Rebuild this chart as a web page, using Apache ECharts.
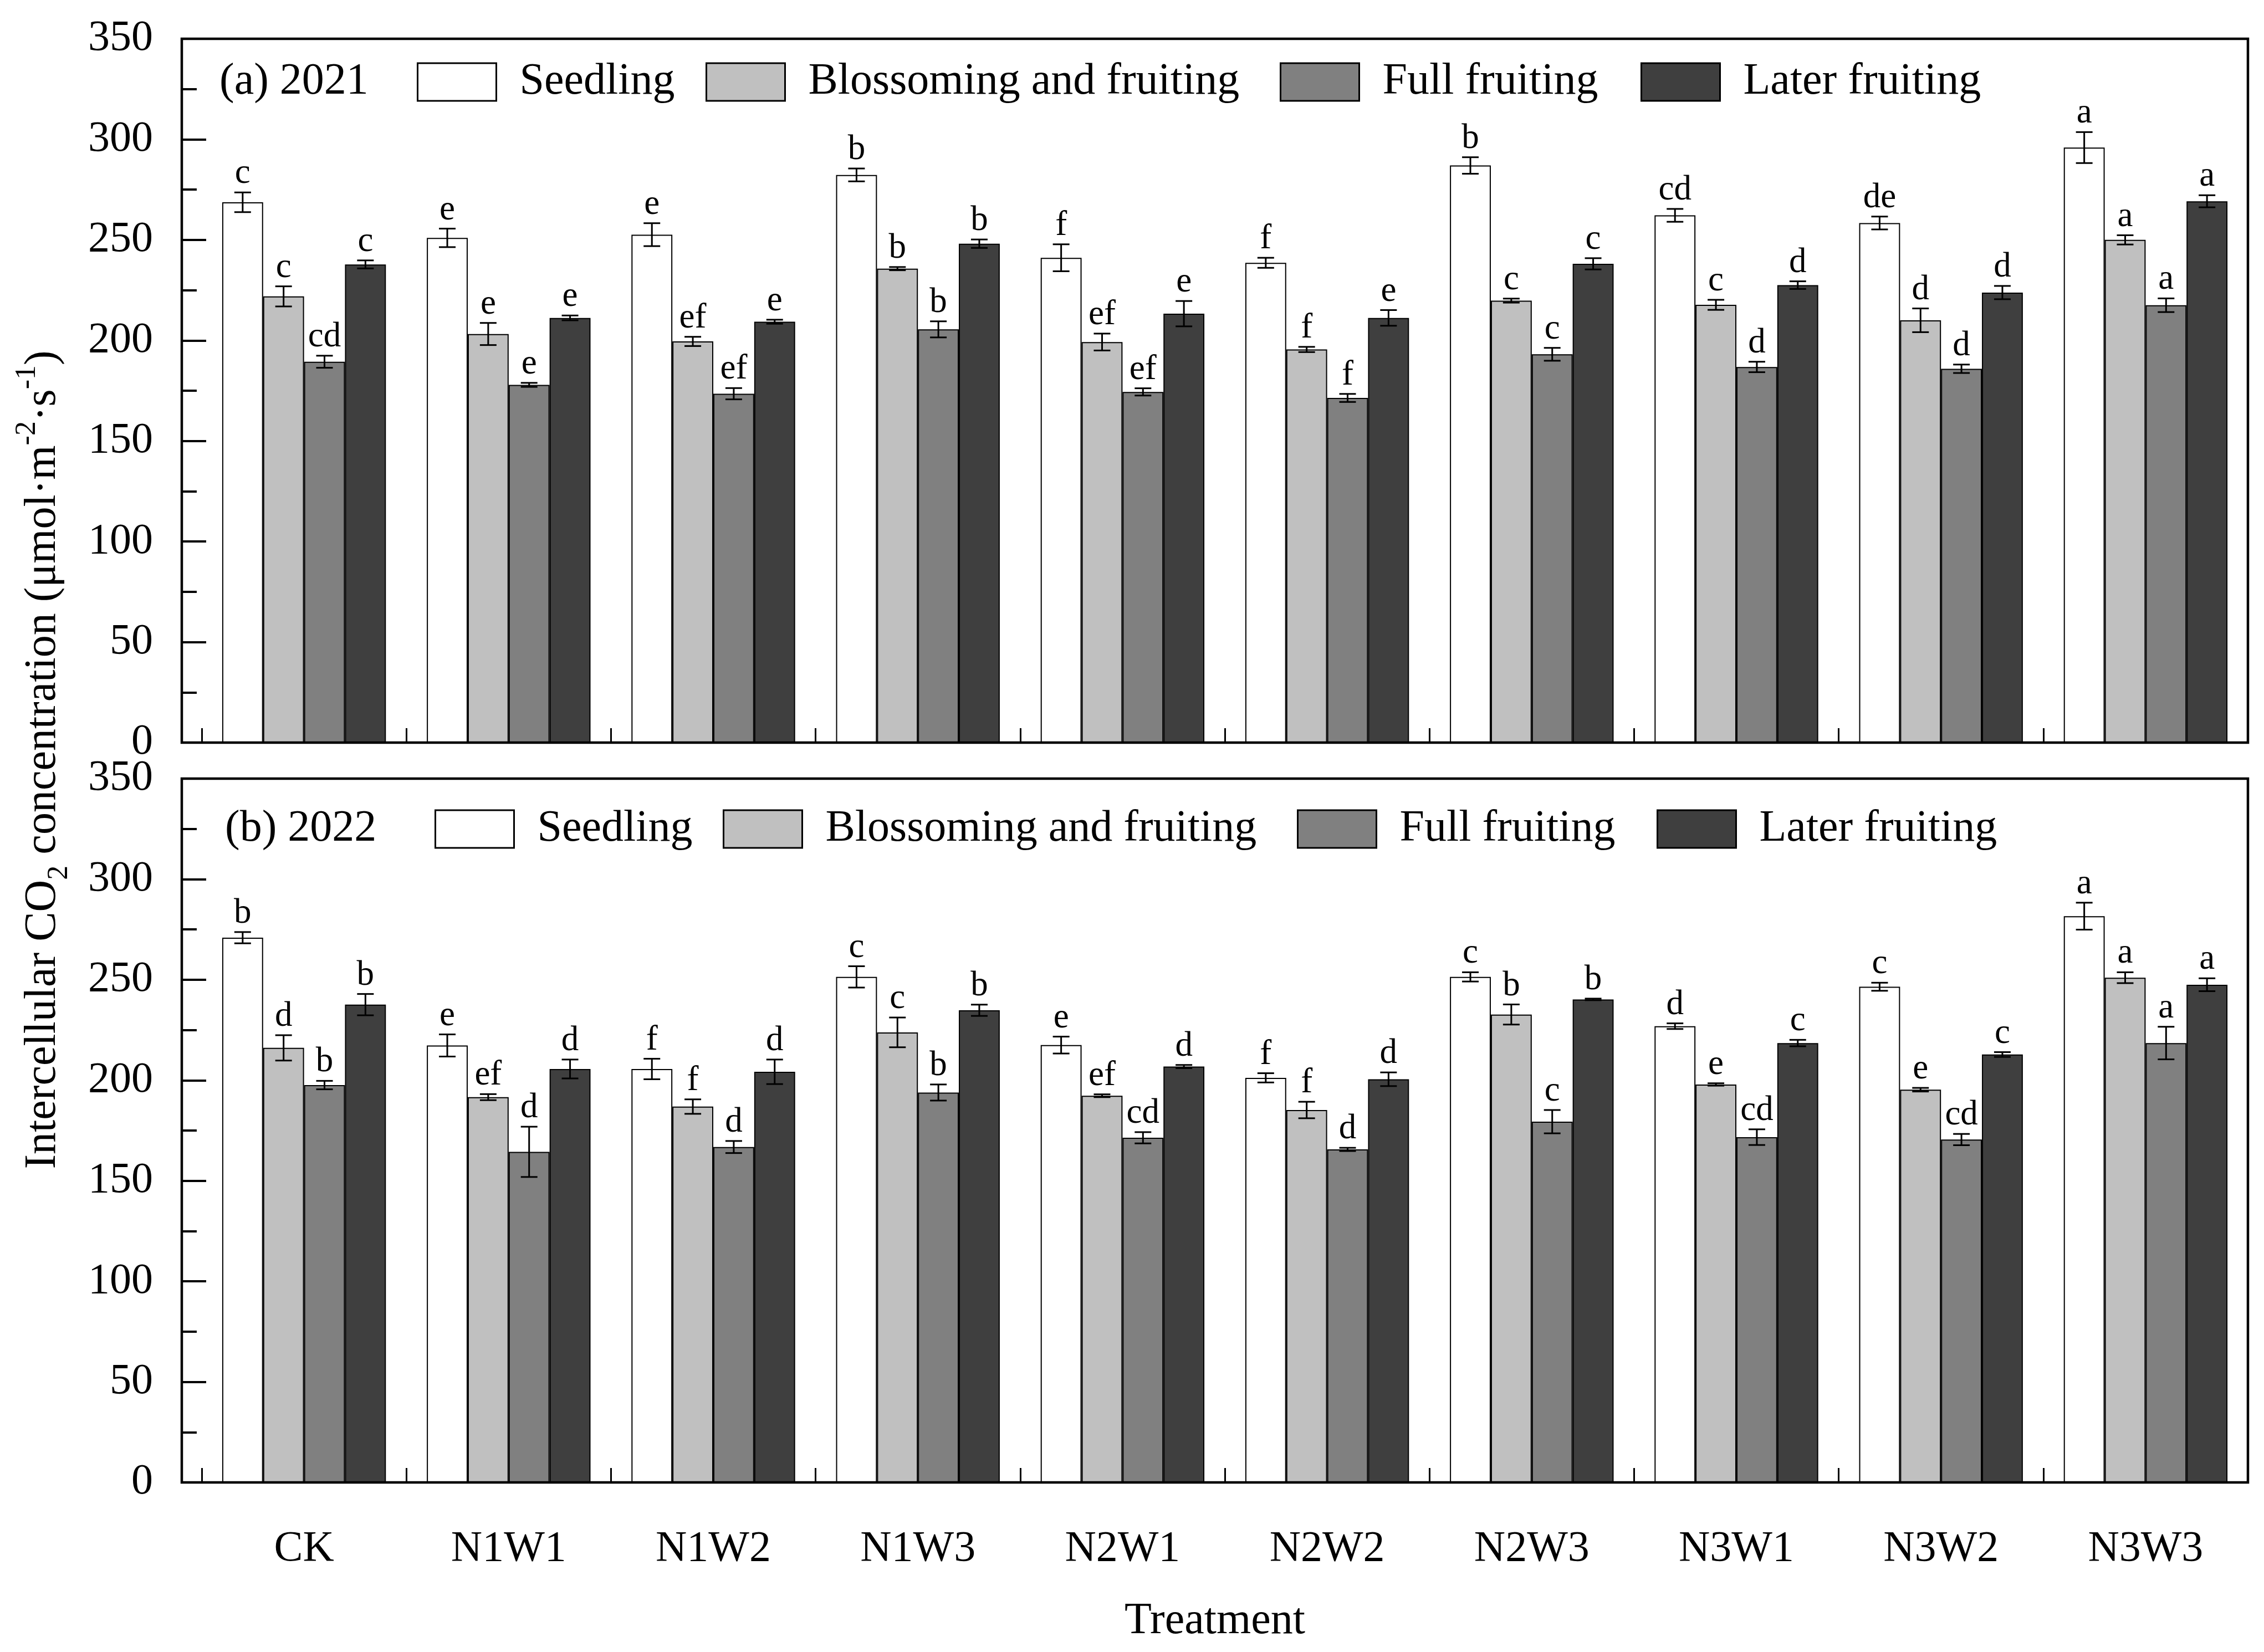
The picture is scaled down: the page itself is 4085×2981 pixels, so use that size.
<!DOCTYPE html>
<html>
<head>
<meta charset="utf-8">
<script src="https://cdn.jsdelivr.net/npm/echarts@6/dist/echarts.min.js"></script>
<style>html,body{margin:0;padding:0;background:#fff;}#chart{width:4085px;height:2981px;}</style>
</head>
<body>
<div id="chart"></div>
<script>
// ---------- data ----------
const categories = ['CK','N1W1','N1W2','N1W3','N2W1','N2W2','N2W3','N3W1','N3W2','N3W3'];
const stages = ['Seedling','Blossoming and fruiting','Full fruiting','Later fruiting'];
const yTicks = [0,50,100,150,200,250,300,350];

// 2021
const seedling2021 = [268.7,251.0,252.6,282.3,241.1,238.6,287.0,262.2,258.4,295.9];
const seedling2021Err = [4.9,4.6,5.7,3.2,6.7,2.5,4.1,3.2,3.2,7.7];
const seedling2021Sig = ['c','e','e','b','f','f','b','cd','de','a'];
const blossom2021 = [221.9,203.2,199.5,235.7,199.2,195.5,219.8,217.7,210.0,250.0];
const blossom2021Err = [5.0,5.5,2.3,0.8,4.2,1.3,1.0,2.5,5.9,2.3];
const blossom2021Sig = ['c','e','ef','b','ef','f','c','c','d','a'];
const full2021 = [189.4,177.9,173.5,205.5,174.4,171.4,193.1,186.8,185.9,217.5];
const full2021Err = [3.0,1.0,2.8,4.0,1.8,2.0,3.2,2.6,2.1,3.4];
const full2021Sig = ['cd','e','ef','b','ef','f','c','d','d','a'];
const later2021 = [237.8,211.2,209.3,248.1,213.3,211.2,238.1,227.5,223.8,269.2];
const later2021Err = [2.0,1.2,1.0,2.1,6.3,3.9,2.8,1.9,3.3,3.0];
const later2021Sig = ['c','e','e','b','e','e','c','d','d','a'];

// 2022
const seedling2022 = [270.9,217.3,205.6,251.4,217.5,201.2,251.4,226.9,246.5,281.6];
const seedling2022Err = [2.8,5.5,5.1,5.3,4.2,2.3,2.3,1.4,2.0,6.7];
const seedling2022Sig = ['b','e','f','c','e','f','c','d','c','a'];
const blossom2022 = [216.1,191.6,186.9,223.8,192.3,185.2,232.7,197.9,195.3,251.0];
const blossom2022Err = [6.3,1.5,3.6,7.4,0.7,4.1,5.0,0.6,0.9,2.7];
const blossom2022Sig = ['d','ef','f','c','ef','f','b','e','e','a'];
const full2022 = [197.6,164.4,166.8,193.9,171.4,165.6,179.4,171.7,170.5,218.5];
const full2022Err = [2.1,12.5,3.0,4.0,2.8,0.8,5.8,3.9,2.8,8.1];
const full2022Sig = ['b','d','d','b','cd','d','c','cd','cd','a'];
const later2022 = [237.6,205.6,204.2,234.8,206.8,200.5,240.2,218.5,212.8,247.5];
const later2022Err = [5.3,4.7,6.1,2.8,0.8,3.4,0.4,1.6,1.2,3.2];
const later2022Sig = ['b','d','d','b','d','d','b','c','c','a'];

// ---------- style / layout ----------
const FONT = 'Liberation Serif';
const colors = ['#ffffff','#c0c0c0','#808080','#3f3f3f'];
const GRID_LEFT = 364, GRID_W = 3692, GRID_H = 1270;
const FRAME_LEFT = 328;
const panelTops = [70, 1405];
const CAT_GAP = 0.2;
const CAP = 15;

const panels = [
  {label:'(a) 2021', means:[seedling2021,blossom2021,full2021,later2021], errs:[seedling2021Err,blossom2021Err,full2021Err,later2021Err], sigs:[seedling2021Sig,blossom2021Sig,full2021Sig,later2021Sig], legendLefts:[752,1273,2309,2960], legendCenter:148, labelX:396},
  {label:'(b) 2022', means:[seedling2022,blossom2022,full2022,later2022], errs:[seedling2022Err,blossom2022Err,full2022Err,later2022Err], sigs:[seedling2022Sig,blossom2022Sig,full2022Sig,later2022Sig], legendLefts:[784,1304,2340,2989], legendCenter:1496, labelX:406}
];

function makeRender(j, letters) {
  return function(params, api) {
    const i = api.value(0), m = api.value(1), e = api.value(2);
    const band = api.size([1, 0])[0];
    const bw = band * (1 - CAT_GAP) / 4;
    const c = api.coord([i, m]);
    const cx = c[0] + (j - 1.5) * bw;
    const yt = api.coord([i, m + e])[1];
    const yb = api.coord([i, m - e])[1];
    const ls = {stroke:'#000', lineWidth:3};
    return {type:'group', children:[
      {type:'line', shape:{x1:cx,y1:yt,x2:cx,y2:yb}, style:ls},
      {type:'line', shape:{x1:cx-CAP,y1:yt,x2:cx+CAP,y2:yt}, style:ls},
      {type:'line', shape:{x1:cx-CAP,y1:yb,x2:cx+CAP,y2:yb}, style:ls},
      {type:'text', x:cx, y:yt-2, style:{text:letters[params.dataIndex], fill:'#000', font:'63px "'+FONT+'"', textAlign:'center', textVerticalAlign:'bottom', align:'center', verticalAlign:'bottom'}}
    ]};
  };
}

const grids = [], xAxes = [], yAxes = [], series = [], legends = [], graphics = [];
panels.forEach((p, pi) => {
  grids.push({left:GRID_LEFT, top:panelTops[pi], width:GRID_W, height:GRID_H, containLabel:false});
  xAxes.push({type:'category', gridIndex:pi, data:categories, boundaryGap:true,
    axisLine:{show:false}, splitLine:{show:false},
    axisTick:{show:true, inside:true, length:26, lineStyle:{color:'#000', width:3}},
    axisLabel:{show:pi===1, interval:0, margin:82, color:'#000', fontFamily:FONT, fontSize:78}});
  yAxes.push({type:'value', gridIndex:pi, min:0, max:350, interval:50, offset:GRID_LEFT-FRAME_LEFT,
    axisLine:{show:false}, splitLine:{show:false},
    axisTick:{show:true, inside:true, length:44, lineStyle:{color:'#000', width:4}},
    minorTick:{show:true, splitNumber:2, length:27, lineStyle:{color:'#000', width:4}},
    minorSplitLine:{show:false},
    axisLabel:{show:true, margin:52, color:'#000', fontFamily:FONT, fontSize:78, showMinLabel:true, showMaxLabel:true,
      formatter: v => yTicks.indexOf(v) >= 0 ? String(v) : ''}});
  stages.forEach((s, j) => {
    series.push({type:'bar', name:s, xAxisIndex:pi, yAxisIndex:pi, data:p.means[j],
      barGap:'0%', barCategoryGap:(CAT_GAP*100)+'%',
      itemStyle:{color:colors[j], borderColor:'#000', borderWidth:2}, emphasis:{disabled:true}});
    series.push({type:'custom', name:s+'-err', xAxisIndex:pi, yAxisIndex:pi, z:10, silent:true,
      data:p.means[j].map((m, i) => [i, m, p.errs[j][i]]),
      encode:{x:0, y:1}, renderItem:makeRender(j, p.sigs[j])});
    legends.push({data:[s], left:p.legendLefts[j], top:p.legendCenter-40, padding:0, itemGap:0,
      itemWidth:142, itemHeight:68, icon:'rect', selectedMode:false,
      itemStyle:{borderColor:'#000', borderWidth:3},
      textStyle:{fontFamily:FONT, fontSize:80, color:'#000', padding:[0,0,0,37]}});
  });
  graphics.push({type:'rect', z:100, silent:true, shape:{x:FRAME_LEFT, y:panelTops[pi], width:GRID_LEFT+GRID_W-FRAME_LEFT, height:GRID_H},
    style:{fill:'none', stroke:'#000', lineWidth:4.5}});
  graphics.push({type:'text', z:100, x:p.labelX, y:p.legendCenter,
    style:{text:p.label, fill:'#000', font:'80px "'+FONT+'"', textAlign:'left', textVerticalAlign:'middle', align:'left', verticalAlign:'middle'}});
});

graphics.push({type:'text', z:100, x:2192, y:2926,
  style:{text:'Treatment', fill:'#000', font:'80px "'+FONT+'"', textAlign:'center', textVerticalAlign:'middle', align:'center', verticalAlign:'middle'}});
graphics.push({type:'text', z:100, x:78, y:1371, rotation:Math.PI/2,
  style:{text:'{a|Intercellular CO}{sub|2}{a| concentration (μmol·m}{sup|-2}{a|·s}{sup|-1}{a|)}',
    fill:'#000', textAlign:'center', textVerticalAlign:'middle', align:'center', verticalAlign:'middle',
    rich:{
      a:{fontFamily:FONT, fontSize:80, lineHeight:110, verticalAlign:'middle', fill:'#000', color:'#000'},
      sub:{fontFamily:FONT, fontSize:52, lineHeight:56, verticalAlign:'bottom', fill:'#000', color:'#000'},
      sup:{fontFamily:FONT, fontSize:52, lineHeight:56, verticalAlign:'top', fill:'#000', color:'#000'}
    }}});

const chart = echarts.init(document.getElementById('chart'), null, {renderer:'canvas'});
chart.setOption({
  animation:false,
  backgroundColor:'#fff',
  grid:grids, xAxis:xAxes, yAxis:yAxes, series:series, legend:legends, graphic:graphics,
  tooltip:{show:false}
});
</script>
</body>
</html>
